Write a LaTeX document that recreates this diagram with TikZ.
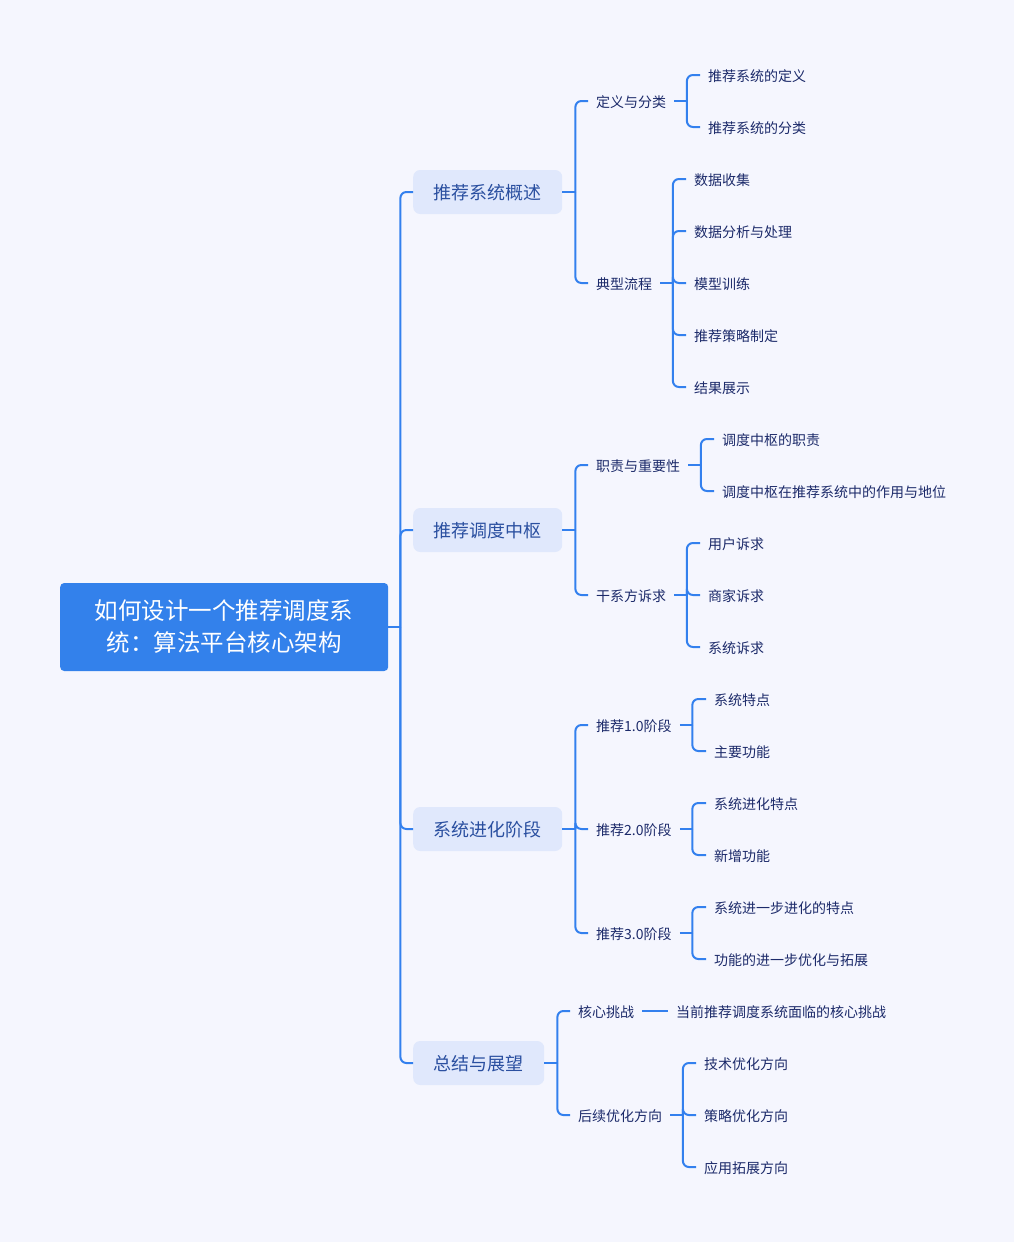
\documentclass[tikz,border=0pt]{standalone}
\usepackage{fontspec}
\setmainfont{Noto Sans CJK SC}
\definecolor{bg}{HTML}{F5F6FE}
\definecolor{lineblue}{HTML}{3380EE}
\definecolor{rootfill}{HTML}{3381EB}
\definecolor{lvfill}{HTML}{E0E8FC}
\definecolor{lvtext}{HTML}{2A4FA0}
\definecolor{leaftext}{HTML}{1C2A6A}
\tikzset{
 rootbox/.style={fill=rootfill, rounded corners=4pt, text=white, minimum width=328pt, minimum height=88pt, align=center, font=\fontsize{23.5}{32}\selectfont, anchor=west, inner sep=0pt},
 topicbox/.style={fill=lvfill, rounded corners=7pt, text=lvtext, minimum height=44pt, inner xsep=20.5pt, inner ysep=0pt, anchor=west, font=\fontsize{18}{22}\selectfont, text height=1.52em, text depth=0.12em},
 subnode/.style={text=leaftext, anchor=west, inner xsep=8pt, inner ysep=1pt, font=\fontsize{14}{17}\selectfont, text height=1.44em, text depth=0.12em},
 conn/.style={draw=lineblue, line width=2pt},
 branch/.style={conn, rounded corners=6pt},
}
\begin{document}
\begin{tikzpicture}[x=1pt,y=-1pt]
\useasboundingbox[fill=bg] (0,0) rectangle (1014,1242);
% root and topics
\node[rootbox] (root) at (60,627) {如何设计一个推荐调度系\\统：算法平台核心架构};
\node[topicbox] (t1) at (413,192) {推荐系统概述};
\node[topicbox] (t2) at (413,530) {推荐调度中枢};
\node[topicbox] (t3) at (413,829) {系统进化阶段};
\node[topicbox] (t4) at (413,1063) {总结与展望};
% level 2
\node[subnode] (a1) at (588,101) {定义与分类};
\node[subnode] (a2) at (588,283) {典型流程};
\node[subnode] (b1) at (588,465) {职责与重要性};
\node[subnode] (b2) at (588,595) {干系方诉求};
\node[subnode] (c1) at (588,725) {推荐1.0阶段};
\node[subnode] (c2) at (588,829) {推荐2.0阶段};
\node[subnode] (c3) at (588,933) {推荐3.0阶段};
\node[subnode] (d1) at (570,1011) {核心挑战};
\node[subnode] (d2) at (570,1115) {后续优化方向};
% leaves
\node[subnode] (a11) at (700,75) {推荐系统的定义};
\node[subnode] (a12) at (700,127) {推荐系统的分类};
\node[subnode] (a21) at (686,179) {数据收集};
\node[subnode] (a22) at (686,231) {数据分析与处理};
\node[subnode] (a23) at (686,283) {模型训练};
\node[subnode] (a24) at (686,335) {推荐策略制定};
\node[subnode] (a25) at (686,387) {结果展示};
\node[subnode] (b11) at (714,439) {调度中枢的职责};
\node[subnode] (b12) at (714,491) {调度中枢在推荐系统中的作用与地位};
\node[subnode] (b21) at (700,543) {用户诉求};
\node[subnode] (b22) at (700,595) {商家诉求};
\node[subnode] (b23) at (700,647) {系统诉求};
\node[subnode] (c11) at (706,699) {系统特点};
\node[subnode] (c12) at (706,751) {主要功能};
\node[subnode] (c21) at (706,803) {系统进化特点};
\node[subnode] (c22) at (706,855) {新增功能};
\node[subnode] (c31) at (706,907) {系统进一步进化的特点};
\node[subnode] (c32) at (706,959) {功能的进一步优化与拓展};
\node[subnode] (d11) at (668,1011) {当前推荐调度系统面临的核心挑战};
\node[subnode] (d21) at (696,1063) {技术优化方向};
\node[subnode] (d22) at (696,1115) {策略优化方向};
\node[subnode] (d23) at (696,1167) {应用拓展方向};
% connectors
\draw[conn] (root.east) -- ++(12,0) coordinate (jr);
\foreach \c in {t1,t2,t3,t4} \draw[branch] (jr) |- (\c.west);
\draw[conn] (t1.east) -- ++(13,0) coordinate (j1);
\foreach \c in {a1,a2} \draw[branch] (j1) |- (\c.west);
\draw[conn] (t2.east) -- ++(13,0) coordinate (j2);
\foreach \c in {b1,b2} \draw[branch] (j2) |- (\c.west);
\draw[conn] (t3.east) -- ++(13,0) coordinate (j3);
\foreach \c in {c1,c2,c3} \draw[branch] (j3) |- (\c.west);
\draw[conn] (t4.east) -- ++(13,0) coordinate (j4);
\foreach \c in {d1,d2} \draw[branch] (j4) |- (\c.west);
\draw[conn] (a1.east) -- ++(12.5,0) coordinate (ja1);
\foreach \c in {a11,a12} \draw[branch] (ja1) |- (\c.west);
\draw[conn] (a2.east) -- ++(12.5,0) coordinate (ja2);
\foreach \c in {a21,a22,a23,a24,a25} \draw[branch] (ja2) |- (\c.west);
\draw[conn] (b1.east) -- ++(12.5,0) coordinate (jb1);
\foreach \c in {b11,b12} \draw[branch] (jb1) |- (\c.west);
\draw[conn] (b2.east) -- ++(12.5,0) coordinate (jb2);
\foreach \c in {b21,b22,b23} \draw[branch] (jb2) |- (\c.west);
\draw[conn] (c1.east) -- ++(12.5,0) coordinate (jc1);
\foreach \c in {c11,c12} \draw[branch] (jc1) |- (\c.west);
\draw[conn] (c2.east) -- ++(12.5,0) coordinate (jc2);
\foreach \c in {c21,c22} \draw[branch] (jc2) |- (\c.west);
\draw[conn] (c3.east) -- ++(12.5,0) coordinate (jc3);
\foreach \c in {c31,c32} \draw[branch] (jc3) |- (\c.west);
\draw[conn] (d1.east) -- (d11.west);
\draw[conn] (d2.east) -- ++(12.5,0) coordinate (jd2);
\foreach \c in {d21,d22,d23} \draw[branch] (jd2) |- (\c.west);
\end{tikzpicture}
\end{document}
